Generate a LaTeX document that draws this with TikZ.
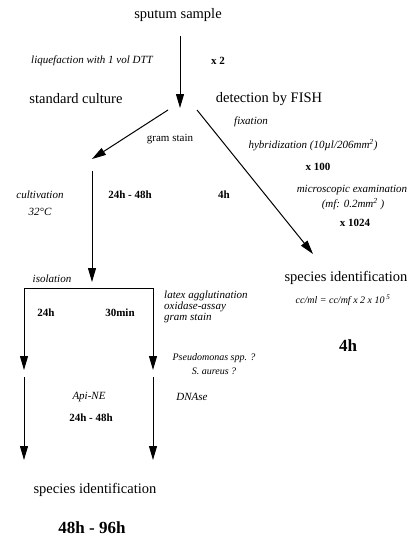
\documentclass[tikz,border=0pt]{standalone}
\usepackage{fontspec}
\setmainfont{Liberation Serif}
\usetikzlibrary{arrows.meta}
\begin{document}
\begin{tikzpicture}[x=1pt,y=-1pt,
  big/.style={font=\fontsize{14.5}{16}\selectfont, inner sep=0pt},
  lab/.style={font=\fontsize{11}{12.5}\selectfont\itshape, inner sep=0pt},
  sm/.style={font=\fontsize{10}{11.5}\selectfont\itshape, inner sep=0pt},
  tm/.style={font=\fontsize{11}{12.5}\selectfont\bfseries, inner sep=0pt},
  huge/.style={font=\fontsize{17}{19}\selectfont\bfseries, inner sep=0pt},
  flow/.style={line width=1pt, -{Triangle[length=14pt,width=8pt]}},
  seg/.style={line width=1pt}]
\useasboundingbox (0,0) rectangle (417,543);
% texts
\node[big] (sputum) at (178,15) {sputum sample};
\node[lab] (liq) at (92,61) {liquefaction with 1 vol DTT};
\node[tm] (x2) at (218,61) {x 2};
\node[big] (std) at (76,99) {standard culture};
\node[big] (fish) at (269,99) {detection by FISH};
\node[lab] (fix) at (251,122) {fixation};
\node[font=\fontsize{11}{12.5}\selectfont, inner sep=0pt] (gram) at (170,139) {gram stain};
\node[lab] (hyb) at (313,145) {hybridization (10\textmu l/206mm\textsuperscript{2})};
\node[tm] (x100) at (318,167) {x 100};
\node[lab] (micro) at (352,190) {microscopic examination};
\node[lab] (mf) at (353,204) {(mf: 0.2mm\textsuperscript{2} )};
\node[tm] (x1024) at (355,223) {x 1024};
\node[lab] (cult) at (40,195) {cultivation};
\node[lab] (temp) at (40,212) {32°C};
\node[tm] (t1) at (130,195) {24h - 48h};
\node[tm] (t2) at (224,195) {4h};
\node[lab] (iso) at (52,279) {isolation};
\node[big] (sidr) at (346,278) {species identification};
\node[sm] (cc) at (343,300) {cc/ml = cc/mf x 2 x 10\,\textsuperscript{5}};
\node[huge] (t4h) at (348,346) {4h};
\node[tm] (t24) at (46,313) {24h};
\node[tm] (t30) at (120,313) {30min};
\node[lab, align=left] (latex) at (164,307) [anchor=west] {latex agglutination\\[-1.5pt]oxidase-assay\\[-1.5pt]gram stain};
\node[sm] (pseudo) at (214,358) {Pseudomonas spp. ?};
\node[sm] (saur) at (214,371) {S. aureus ?};
\node[lab] (api) at (89,397) {Api-NE};
\node[lab] (dna) at (192,397) {DNAse};
\node[tm] (t48) at (91,418) {24h - 48h};
\node[big] (sidl) at (95,490) {species identification};
\node[huge] (t96) at (92,528) {48h - 96h};
% connectors
\coordinate (a0) at (180,36);
\coordinate (a1) at (180,108);
\coordinate (b0) at (168,110);
\coordinate (b1) at (92,159);
\coordinate (c0) at (197,110);
\coordinate (c1) at (313,254);
\coordinate (d0) at (92,171);
\coordinate (d1) at (92,282);
\coordinate (hl) at (24,288);
\coordinate (hr) at (153,288);
\coordinate (e1) at (24,370);
\coordinate (f1) at (153,370);
\coordinate (g0) at (24,377);
\coordinate (g1) at (24,460);
\coordinate (k0) at (153,377);
\coordinate (k1) at (153,460);
\draw[flow] (a0) -- (a1);
\draw[flow] (b0) -- (b1);
\draw[flow] (c0) -- (c1);
\draw[flow] (d0) -- (d1);
\draw[seg] (hl) -- (hr);
\draw[flow] (hl) -- (e1);
\draw[flow] (hr) -- (f1);
\draw[flow] (g0) -- (g1);
\draw[flow] (k0) -- (k1);
\end{tikzpicture}
\end{document}
